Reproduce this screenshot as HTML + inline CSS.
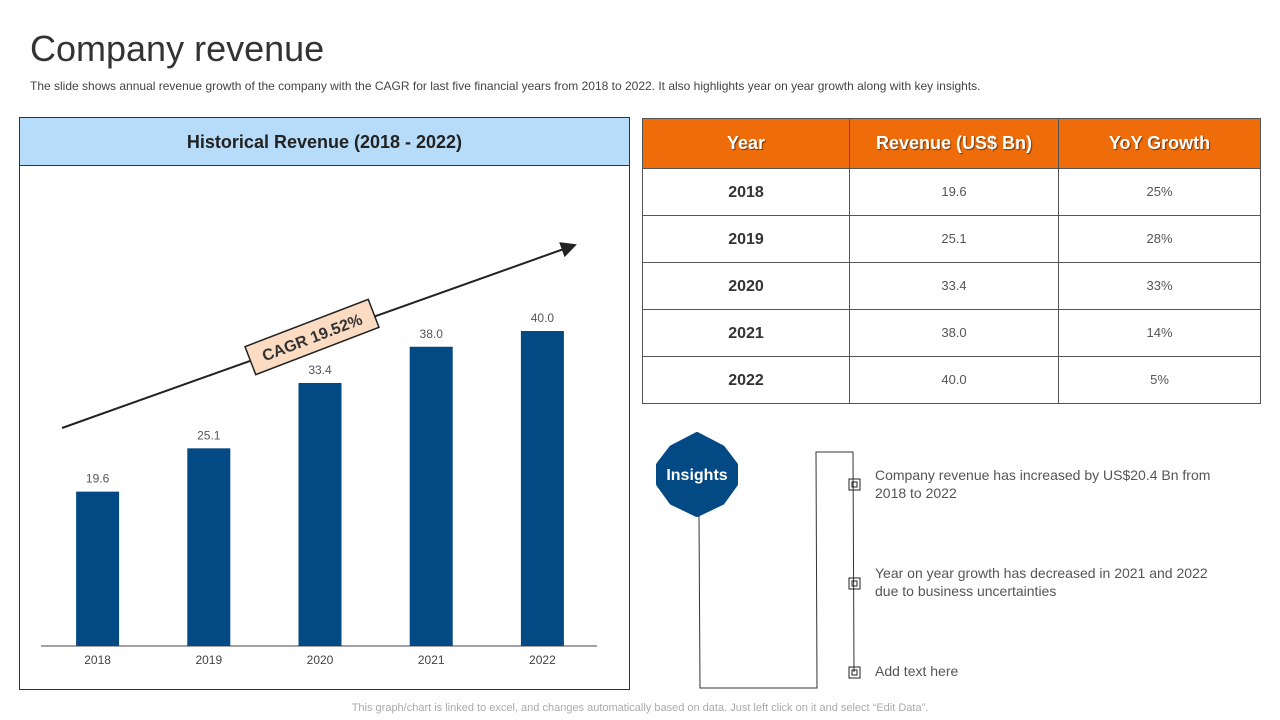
<!DOCTYPE html>
<html><head><meta charset="utf-8"><style>
body{margin:0;width:1280px;height:720px;background:#fff;font-family:"Liberation Sans",sans-serif;position:relative;overflow:hidden}
.abs{position:absolute}
table{border-collapse:collapse}
</style></head><body>
<div class="abs" style="left:30px;top:28px;font-size:36px;color:#333">Company revenue</div>
<div class="abs" style="left:30px;top:79px;font-size:12px;color:#444">The slide shows annual revenue growth of the company with the CAGR for last five financial years from 2018 to 2022. It also highlights year on year growth along with key insights.</div>

<div class="abs" style="left:19px;top:117px;width:611px;height:573px;border:1px solid #333;box-sizing:border-box"></div>
<div class="abs" style="left:20px;top:118px;width:609px;height:48px;background:#b6dcf9;border-bottom:1px solid #333;box-sizing:border-box;text-align:center;line-height:48px;font-size:18px;font-weight:bold;color:#222">Historical Revenue (2018 - 2022)</div>

<svg class="abs" style="left:0;top:0" width="640" height="700" id="chart">
<defs><marker id="ah" markerWidth="8" markerHeight="8" refX="7" refY="4" orient="auto"><path d="M0,0 L8,4 L0,8z" fill="#222"/></marker></defs>
<line x1="41" y1="646" x2="597" y2="646" stroke="#444" stroke-width="1"/>
<line x1="62" y1="428" x2="575" y2="245" stroke="#222" stroke-width="2" marker-end="url(#ah)"/>
<g transform="translate(312,337) rotate(-21)">
<rect x="-66" y="-15" width="132" height="30" fill="#fbdcc3" stroke="#222" stroke-width="1.5"/>
<text x="0" y="6" text-anchor="middle" font-size="16" font-weight="bold" fill="#333">CAGR 19.52%</text></g>
</svg>

<table class="abs" style="left:642px;top:118px;width:619px;font-size:13px;color:#555">
<tr style="height:50px;background:#ee6c0a;color:#fff;font-size:18px;font-weight:bold;text-shadow:1px 1px 1px #7a3500">
<th style="border:1px solid #555;width:204px">Year</th><th style="border:1px solid #555;width:206px">Revenue (US$ Bn)</th><th style="border:1px solid #555">YoY Growth</th></tr>
<tbody id="tb"></tbody></table>

<svg class="abs" style="left:640px;top:420px" width="640" height="280">
<polygon points="57,15 82,28 95,45 95,64 82,82 57,94 32,82 19,64 19,45 32,28" fill="#034a85" stroke="#034a85" stroke-linejoin="round" stroke-width="6"/>
<text x="57" y="60" text-anchor="middle" fill="#fff" font-size="16" font-weight="bold">Insights</text>
<polyline points="59,96 60,268 177,268 176,32 213,32 214,252" fill="none" stroke="#333" stroke-width="1"/>
<g fill="none" stroke="#222" stroke-width="1">
<rect x="209" y="59" width="11" height="11"/><rect x="212" y="62" width="5" height="5"/>
<rect x="209" y="158" width="11" height="11"/><rect x="212" y="161" width="5" height="5"/>
<rect x="209" y="247" width="11" height="11"/><rect x="212" y="250" width="5" height="5"/>
</g></svg>
<div class="abs" style="left:875px;top:466px;width:350px;font-size:14px;color:#555;line-height:18px">Company revenue has increased by US$20.4 Bn from 2018 to 2022</div>
<div class="abs" style="left:875px;top:564px;width:350px;font-size:14px;color:#555;line-height:18px">Year on year growth has decreased in 2021 and 2022 due to business uncertainties</div>
<div class="abs" style="left:875px;top:662px;font-size:14px;color:#555;line-height:18px">Add text here</div>
<div class="abs" style="left:0;width:1280px;top:702px;text-align:center;font-size:11px;color:#aaa">This graph/chart is linked to excel, and changes automatically based on data. Just left click on it and select “Edit Data”.</div>

<script>
const years=["2018","2019","2020","2021","2022"];
const revenue=[19.6,25.1,33.4,38.0,40.0];
const yoy=["25%","28%","33%","14%","5%"];
const ns="http://www.w3.org/2000/svg";
const svg=document.getElementById('chart');
const x0=41,x1=597,base=646,pxPer=7.875;
const band=(x1-x0)/years.length;
const xc=i=>x0+band*(i+0.5)+1;
const y=v=>base-v*pxPer;
years.forEach((yr,i)=>{
 const r=document.createElementNS(ns,'rect');
 
 
 r.setAttribute('x',xc(i)-21.5);r.setAttribute('y',y(revenue[i]));
 r.setAttribute('width',43);r.setAttribute('height',base-y(revenue[i]));
 r.setAttribute('fill','#034a85');svg.appendChild(r);
 const t=document.createElementNS(ns,'text');
 
 
 t.setAttribute('x',xc(i));t.setAttribute('y',y(revenue[i])-9);
 t.setAttribute('text-anchor','middle');t.setAttribute('font-size','12');t.setAttribute('fill','#555');
 t.textContent=revenue[i].toFixed(1);svg.appendChild(t);
 const l=document.createElementNS(ns,'text');
 
 
 l.setAttribute('x',xc(i));l.setAttribute('y',664);
 l.setAttribute('text-anchor','middle');l.setAttribute('font-size','12');l.setAttribute('fill','#444');
 l.textContent=yr;svg.appendChild(l);
});
const tb=document.getElementById('tb');
years.forEach((yr,i)=>{
 const tr=document.createElement('tr');
 
 
 tr.style.height='47px';
 tr.innerHTML='<td style="border:1px solid #555;text-align:center;font-size:16px;font-weight:bold;color:#333;padding-top:3px">'+yr+'</td><td style="border:1px solid #555;text-align:center;padding-bottom:2px">'+revenue[i].toFixed(1)+'</td><td style="border:1px solid #555;text-align:center;padding-bottom:2px">'+yoy[i]+'</td>';
 tb.appendChild(tr);
});
</script>
</body></html>
